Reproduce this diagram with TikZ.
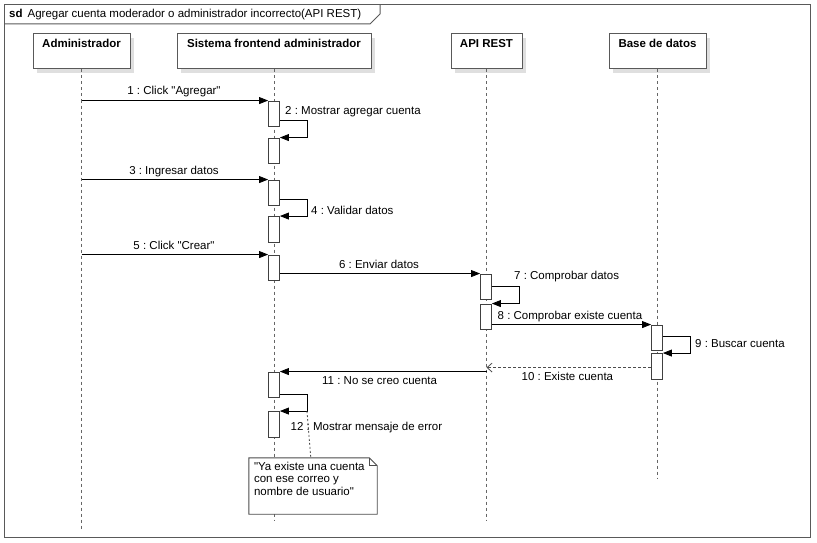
\documentclass[tikz,border=0pt]{standalone}
\usepackage{fontspec}
\setmainfont{Liberation Sans}[Ligatures=TeXOff]
\usetikzlibrary{arrows.meta,shadows}
\frenchspacing
\begin{document}
\begin{tikzpicture}[x=1pt, y={(0pt,-1pt)},
  font=\fontsize{11.5}{13}\selectfont,
  frame/.style={draw=black!65, line width=1pt},
  head/.style={draw=black!65, line width=1pt, fill=white, minimum height=35pt, inner sep=0pt,
    drop shadow={shadow xshift=4pt, shadow yshift=-4pt, fill=black!25, opacity=0.5}},
  headtxt/.style={font=\fontsize{11.5}{13}\selectfont\bfseries, inner sep=0pt},
  lifeline/.style={draw=black!60, dash pattern=on 3pt off 3pt, line width=0.8pt},
  act/.style={draw=black!75, fill=white, line width=0.9pt, minimum width=11pt, inner sep=0pt},
  msg/.style={draw=black, line width=0.8pt, -{Triangle[length=9pt,width=7pt]}},
  reply/.style={draw=black!70, line width=0.8pt, dash pattern=on 3pt off 2pt,
    -{Straight Barb[length=5pt,width=9pt]}},
  notelink/.style={draw=black!70, line width=0.8pt, dash pattern=on 2pt off 2pt},
  lbl/.style={inner sep=0pt, text height=8.5pt, text depth=2.5pt},
]
\useasboundingbox (0,0) rectangle (817,543);

% outer frame and title tab
\draw[frame] (4,5) rectangle (810,537);
\draw[frame] (4,24) -- (370,24) -- (380,14) -- (380,5);
\node[lbl, anchor=west] (title) at (9,14.5) {\textbf{sd}\hspace{5pt}Agregar cuenta moderador o administrador incorrecto(API REST)};

% lifeline heads
\node[head, minimum width=97pt]  (hA) at (81.5,51.5) {};
\node[head, minimum width=194pt] (hS) at (274,51.5) {};
\node[head, minimum width=71pt]  (hR) at (486.5,51.5) {};
\node[head, minimum width=97pt]  (hD) at (657.5,51.5) {};
\node[headtxt] (hAt) at ([yshift=-10pt]hA.north) {Administrador};
\node[headtxt] (hSt) at ([yshift=-10pt]hS.north) {Sistema frontend administrador};
\node[headtxt] (hRt) at ([yshift=-10pt]hR.north) {API REST};
\node[headtxt] (hDt) at ([yshift=-10pt]hD.north) {Base de datos};

% lifeline ends
\coordinate (eA) at (81.5,530);
\coordinate (eS) at (274,520);
\coordinate (eR) at (486.5,520);
\coordinate (eD) at (657.5,478);
\draw[lifeline] (hA.south) -- (eA);
\draw[lifeline] (hS.south) -- (eS);
\draw[lifeline] (hR.south) -- (eR);
\draw[lifeline] (hD.south) -- (eD);

% activation bars
\node[act, minimum height=25pt]   (s1) at (274,113.5) {};
\node[act, minimum height=25pt]   (s2) at (274,150.5) {};
\node[act, minimum height=25pt]   (s3) at (274,192.5) {};
\node[act, minimum height=25.5pt] (s4) at (274,229.25) {};
\node[act, minimum height=25pt]   (s5) at (274,267.5) {};
\node[act, minimum height=25pt]   (s7) at (274,384.5) {};
\node[act, minimum height=25.5pt] (s8) at (274,424.25) {};
\node[act, minimum height=25pt]   (a1) at (486,286.5) {};
\node[act, minimum height=25pt]   (a2) at (486,316.5) {};
\node[act, minimum height=25.5pt] (d1) at (657,337.75) {};
\node[act, minimum height=25.5pt] (d2) at (657,366.25) {};

% messages
\draw[msg] (hA |- s1.north west) -- (s1.north west);
\draw[msg] ([yshift=6pt]s1.south east) -- ++(27,0) |- (s2.north east);
\draw[msg] (hA |- s3.north west) -- (s3.north west);
\draw[msg] ([yshift=6pt]s3.south east) -- ++(27,0) |- (s4.north east);
\draw[msg] (hA |- s5.north west) -- (s5.north west);
\draw[msg] (s5.east |- a1.north west) -- (a1.north west);
\draw[msg] ([yshift=13pt]a1.south east) -- ++(27,0) |- (a2.north east);
\draw[msg] (a2.east |- d1.north west) -- (d1.north west);
\draw[msg] ([yshift=14.5pt]d1.south east) -- ++(27,0) |- (d2.north east);
\coordinate (r10) at ([yshift=-14.5pt]d2.north west);
\draw[reply] (r10) -- (hR |- r10);
\draw[msg] (hR |- s7.north east) -- (s7.north east);
\draw[msg] ([yshift=3.5pt]s7.south east) -- ++(27,0) coordinate (k12) |- (s8.north east);
\coordinate (k12b) at (k12 |- s8.north east);

% message labels
\node[lbl] (l1) at (174,92) {1 : Click "Agregar"};
\node[lbl, anchor=west] (l2) at (285,111) {2 : Mostrar agregar cuenta};
\node[lbl] (l3) at (174,171) {3 : Ingresar datos};
\node[lbl, anchor=west] (l4) at (311,211) {4 : Validar datos};
\node[lbl] (l5) at (174,246) {5 : Click "Crear"};
\node[lbl] (l6) at (379,265) {6 : Enviar datos};
\node[lbl, anchor=west] (l7) at (514,276) {7 : Comprobar datos};
\node[lbl, anchor=west] (l8) at (497.5,316) {8 : Comprobar existe cuenta};
\node[lbl, anchor=west] (l9) at (695,344) {9 : Buscar cuenta};
\node[lbl, anchor=west] (l10) at (521.5,377.5) {10 : Existe cuenta};
\node[lbl, anchor=west] (l11) at (322,381.5) {11 : No se creo cuenta};
\node[lbl, anchor=west] (l12) at (290.5,427.5) {12 : Mostrar mensaje de error};

% note
\node[minimum width=128pt, minimum height=56pt, inner sep=0pt] (note) at (313,486) {};
\draw[draw=black!70, line width=0.9pt, fill=white]
  (note.north west) -- ([xshift=-8pt]note.north east) -- ([yshift=-8pt]note.north east)
  -- (note.south east) -- (note.south west) -- cycle;
\draw[draw=black!70, line width=0.9pt]
  ([xshift=-8pt]note.north east) |- ([yshift=-8pt]note.north east);
\node[anchor=north west, align=left, inner sep=0pt, font=\fontsize{11.5}{12.5}\selectfont]
  (notetxt) at ([xshift=5pt,yshift=-4pt]note.north west)
  {"Ya existe una cuenta\\con ese correo y\\nombre de usuario"};
\draw[notelink] (k12b) -- ([xshift=62pt]note.north west);
\end{tikzpicture}
\end{document}
